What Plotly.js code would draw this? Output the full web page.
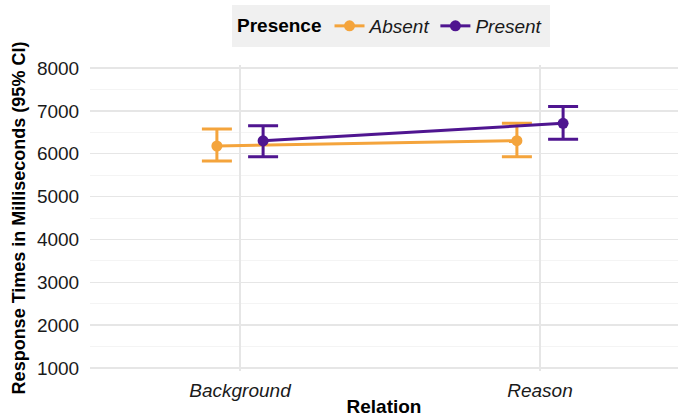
<!DOCTYPE html>
<html>
<head>
<meta charset="utf-8">
<script src="https://cdn.plot.ly/plotly-3.0.1.min.js"></script>
<style>html,body{margin:0;padding:0;background:#fff;}#chart{width:678px;height:417px;}</style>
</head>
<body>
<div id="chart"></div>
<script>
const categories = ["Background", "Reason"];
const groups = ["Absent", "Present"];
const absentMean = [6180, 6305];
const absentUpper = [6575, 6710];
const absentLower = [5830, 5930];
const presentMean = [6300, 6710];
const presentUpper = [6650, 7100];
const presentLower = [5930, 6335];
const yTicks = [1000, 2000, 3000, 4000, 5000, 6000, 7000, 8000];

const colors = {Absent: "#F4A43C", Present: "#4F1590"};
const dodge = {Absent: -0.077, Present: 0.077};
const series = {
  Absent: {mean: absentMean, upper: absentUpper, lower: absentLower},
  Present: {mean: presentMean, upper: presentUpper, lower: presentLower}
};

const traces = groups.map(g => {
  const s = series[g];
  return {
    type: "scatter",
    mode: "lines+markers",
    name: "<i>" + g + "</i>",
    x: categories.map((c, i) => i + 1 + dodge[g]),
    y: s.mean,
    line: {color: colors[g], width: 3},
    marker: {color: colors[g], size: 11},
    error_y: {
      type: "data",
      symmetric: false,
      array: s.mean.map((m, i) => s.upper[i] - m),
      arrayminus: s.mean.map((m, i) => m - s.lower[i]),
      color: colors[g],
      thickness: 3,
      width: 15
    }
  };
});

const plotTop = 65, plotBottom = 371, plotLeft = 90, W = 678;
const ph = plotBottom - plotTop, pw = W - plotLeft;
const px2x = px => (px - plotLeft) / pw;
const py2y = py => (plotBottom - py) / ph;

const layout = {
  width: 678, height: 417,
  margin: {l: plotLeft, r: 0, t: plotTop, b: 417 - plotBottom},
  paper_bgcolor: "#ffffff",
  plot_bgcolor: "#ffffff",
  font: {family: "Liberation Sans, Arial, sans-serif", color: "#1a1a1a", size: 19},
  showlegend: true,
  legend: {
    orientation: "h",
    x: px2x(391), xanchor: "center",
    y: py2y(26), yanchor: "middle",
    bgcolor: "rgba(0,0,0,0)",
    font: {size: 19, color: "#1a1a1a"},
    title: {text: "<b>Presence</b>", font: {size: 19, color: "#000"}, side: "left"},
    itemwidth: 30,
    tracegroupgap: 0
  },
  shapes: [{
    type: "rect", xref: "paper", yref: "paper", layer: "below",
    x0: px2x(232), x1: px2x(550), y0: py2y(47), y1: py2y(5),
    fillcolor: "#f0f0f0", line: {width: 0}
  }],
  xaxis: {
    range: [0.5, 2.46],
    tickvals: categories.map((c, i) => i + 1),
    ticktext: categories.map(c => "<i>" + c + "</i>"),
    showgrid: true, gridcolor: "#e6e6e6", gridwidth: 1.5,
    zeroline: false, showline: false,
    ticks: "outside", ticklen: 2, tickcolor: "rgba(0,0,0,0)",
    tickfont: {size: 19, color: "#1a1a1a"},
    title: {text: "<b>Relation</b>", font: {size: 19, color: "#000"}, standoff: 2}
  },
  yaxis: {
    range: [930, 8070],
    tickvals: yTicks,
    showgrid: true, gridcolor: "#e6e6e6", gridwidth: 1.5,
    minor: {dtick: 500, tick0: 500, showgrid: true, gridcolor: "#f4f4f4", gridwidth: 1},
    zeroline: false, showline: false,
    ticks: "outside", ticklen: 6, tickcolor: "rgba(0,0,0,0)",
    tickfont: {size: 19, color: "#1a1a1a"},
    title: {text: "<b>Response Times in Milliseconds (95% CI)</b>", font: {size: 18, color: "#000"}, standoff: 6}
  }
};

Plotly.newPlot("chart", traces, layout, {displayModeBar: false, staticPlot: true});
</script>
</body>
</html>
